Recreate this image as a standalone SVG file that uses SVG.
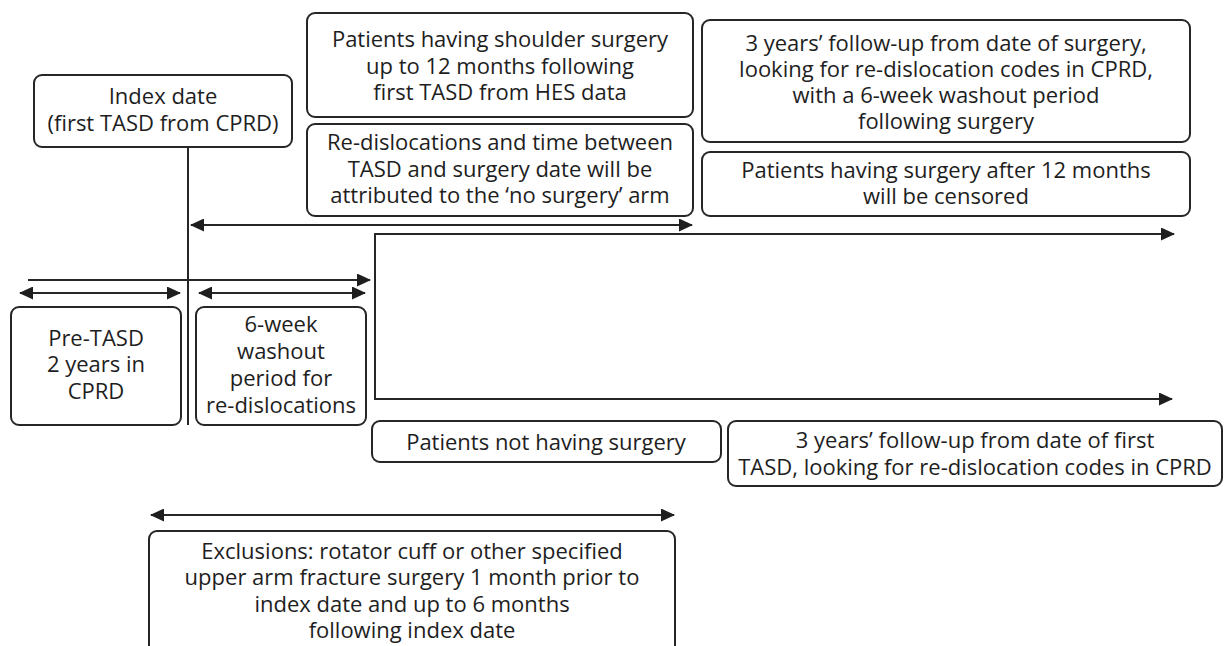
<svg xmlns="http://www.w3.org/2000/svg" width="1226" height="646" viewBox="0 0 1226 646">
<style>
  .box { fill: #ffffff; stroke: #262626; stroke-width: 2; }
  .ln { fill: none; stroke: #262626; stroke-width: 2; }
  text { font-family: "Open Sans", "Noto Sans", "Liberation Sans", sans-serif; font-size: 22px; fill: #1e1e1e; text-anchor: middle; }
</style>
<defs>
  <marker id="ah" viewBox="0 0 14 13" refX="13" refY="6.5" markerWidth="14" markerHeight="13" markerUnits="userSpaceOnUse" orient="auto-start-reverse">
    <path d="M0,0 L14,6.5 L0,13 Z" fill="#1e1e1e"/>
  </marker>
</defs>
<rect width="1226" height="646" fill="#ffffff"/>

<g id="connectors">
  <line class="ln" x1="188" y1="147" x2="188" y2="425"/>
  <line class="ln" x1="191" y1="225" x2="692" y2="225" marker-start="url(#ah)" marker-end="url(#ah)"/>
  <line class="ln" x1="28" y1="280" x2="370" y2="280" marker-end="url(#ah)"/>
  <line class="ln" x1="20" y1="293" x2="180" y2="293" marker-start="url(#ah)" marker-end="url(#ah)"/>
  <line class="ln" x1="199" y1="293" x2="365" y2="293" marker-start="url(#ah)" marker-end="url(#ah)"/>
  <path class="ln" d="M375,234 V399"/>
  <line class="ln" x1="374" y1="234" x2="1174" y2="234" marker-end="url(#ah)"/>
  <line class="ln" x1="374" y1="399" x2="1172" y2="399" marker-end="url(#ah)"/>
  <line class="ln" x1="151" y1="515" x2="674" y2="515" marker-start="url(#ah)" marker-end="url(#ah)"/>
</g>

<g id="node-index">
  <rect class="box" x="34" y="75" width="258" height="72" rx="8"/>
  <text x="163" y="104">Index date</text>
  <text x="163" y="131">(first TASD from CPRD)</text>
</g>

<g id="node-shoulder-surgery">
  <rect class="box" x="307" y="13" width="386" height="104" rx="8"/>
  <text x="500" y="47">Patients having shoulder surgery</text>
  <text x="500" y="74">up to 12 months following</text>
  <text x="500" y="100">first TASD from HES data</text>
</g>

<g id="node-redislocations">
  <rect class="box" x="307" y="124" width="386" height="92" rx="8"/>
  <text x="500" y="150">Re-dislocations and time between</text>
  <text x="500" y="177">TASD and surgery date will be</text>
  <text x="500" y="203">attributed to the ‘no surgery’ arm</text>
</g>

<g id="node-followup-surgery">
  <rect class="box" x="702" y="20" width="488" height="122" rx="8"/>
  <text x="946" y="51">3 years’ follow-up from date of surgery,</text>
  <text x="946" y="77">looking for re-dislocation codes in CPRD,</text>
  <text x="946" y="103">with a 6-week washout period</text>
  <text x="946" y="129">following surgery</text>
</g>

<g id="node-censored">
  <rect class="box" x="702" y="152" width="488" height="64" rx="8"/>
  <text x="946" y="178">Patients having surgery after 12 months</text>
  <text x="946" y="204">will be censored</text>
</g>

<g id="node-pretasd">
  <rect class="box" x="11" y="307" width="170" height="118" rx="8"/>
  <text x="96" y="346">Pre-TASD</text>
  <text x="96" y="372">2 years in</text>
  <text x="96" y="399">CPRD</text>
</g>

<g id="node-washout">
  <rect class="box" x="196" y="307" width="170" height="118" rx="8"/>
  <text x="281" y="332">6-week</text>
  <text x="281" y="359">washout</text>
  <text x="281" y="386">period for</text>
  <text x="281" y="413">re-dislocations</text>
</g>

<g id="node-no-surgery">
  <rect class="box" x="372" y="421" width="349" height="41" rx="8"/>
  <text x="546" y="450">Patients not having surgery</text>
</g>

<g id="node-followup-first">
  <rect class="box" x="728" y="421" width="494" height="65" rx="8"/>
  <text x="975" y="448">3 years’ follow-up from date of first</text>
  <text x="975" y="475">TASD, looking for re-dislocation codes in CPRD</text>
</g>

<g id="node-exclusions">
  <rect class="box" x="149" y="531" width="526" height="130" rx="8"/>
  <text x="412" y="559">Exclusions: rotator cuff or other specified</text>
  <text x="412" y="585">upper arm fracture surgery 1 month prior to</text>
  <text x="412" y="612">index date and up to 6 months</text>
  <text x="412" y="638">following index date</text>
</g>
</svg>
